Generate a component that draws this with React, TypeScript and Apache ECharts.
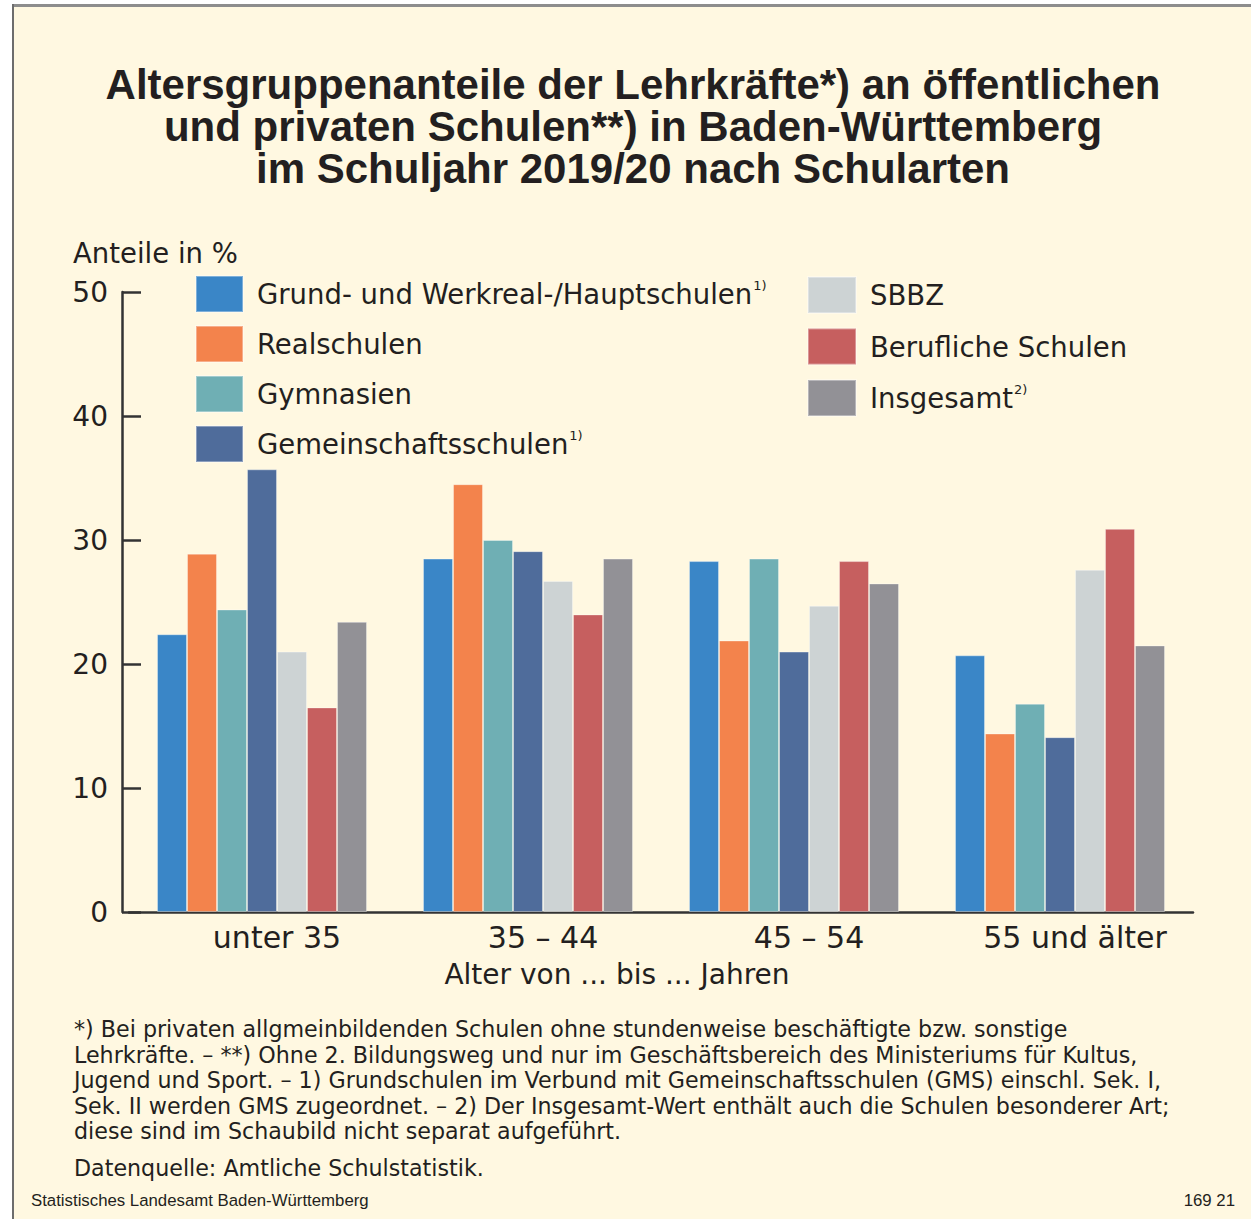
import React, { useEffect, useRef } from "react";
import * as echarts from "echarts";

const categories = ["unter 35", "35 – 44", "45 – 54", "55 und älter"];

const seriesNames = [
  "Grund- und Werkreal-/Hauptschulen",
  "Realschulen",
  "Gymnasien",
  "Gemeinschaftsschulen",
  "SBBZ",
  "Berufliche Schulen",
  "Insgesamt",
];

const superscripts: Record<string, string> = {
  "Grund- und Werkreal-/Hauptschulen": "1)",
  "Gemeinschaftsschulen": "1)",
  "Insgesamt": "2)",
};

const grundWerkreal = [22.4, 28.5, 28.3, 20.7];
const realschulen = [28.9, 34.5, 21.9, 14.4];
const gymnasien = [24.4, 30.0, 28.5, 16.8];
const gemeinschaft = [35.7, 29.1, 21.0, 14.1];
const sbbz = [21.0, 26.7, 24.7, 27.6];
const beruflich = [16.5, 24.0, 28.3, 30.9];
const insgesamt = [23.4, 28.5, 26.5, 21.5];

const seriesValues = [grundWerkreal, realschulen, gymnasien, gemeinschaft, sbbz, beruflich, insgesamt];

const colors = ["#3A86C7", "#F3834C", "#6FAFB4", "#4F6C9B", "#CDD3D4", "#C65F5F", "#929196"];

const yTicks = [0, 10, 20, 30, 40, 50];

const titleLines = [
  "Altersgruppenanteile der Lehrkräfte*) an öffentlichen",
  "und privaten Schulen**) in Baden-Württemberg",
  "im Schuljahr 2019/20 nach Schularten",
];

const footnoteLines = [
  "*) Bei privaten allgmeinbildenden Schulen ohne stundenweise beschäftigte bzw. sonstige",
  "Lehrkräfte. – **) Ohne 2. Bildungsweg und nur im Geschäftsbereich des Ministeriums für Kultus,",
  "Jugend und Sport. – 1) Grundschulen im Verbund mit Gemeinschaftsschulen (GMS) einschl. Sek. I,",
  "Sek. II werden GMS zugeordnet. – 2) Der Insgesamt-Wert enthält auch die Schulen besonderer Art;",
  "diese sind im Schaubild nicht separat aufgeführt.",
];

const sourceText = "Datenquelle: Amtliche Schulstatistik.";
const publisher = "Statistisches Landesamt Baden-Württemberg";
const chartNumber = "169 21";
const yAxisTitle = "Anteile in %";
const xAxisTitle = "Alter von ... bis ... Jahren";

const LABEL_FONT = "'DejaVu Sans', 'Noto Sans', sans-serif";
const SMALL_FONT = "'Liberation Sans', Arial, sans-serif";
const TEXT_COLOR = "#231f20";

export default function App() {
  const ref = useRef<HTMLDivElement>(null);

  useEffect(() => {
    if (!ref.current) return;
    const chart = echarts.init(ref.current, null, { renderer: "svg" });

    const legendText = {
      fontSize: 27.5,
      fontFamily: LABEL_FONT,
      color: TEXT_COLOR,
      lineHeight: 30,
      padding: [0, 0, 0, 9],
      rich: {
        sup: {
          fontSize: 13,
          fontFamily: LABEL_FONT,
          color: TEXT_COLOR,
          verticalAlign: "top",
          lineHeight: 14,
          padding: [0, 0, 14, 1],
        },
      },
    };
    const legendFormatter = (n: string) => (superscripts[n] ? `${n}{sup|${superscripts[n]}}` : n);

    const graphics: any[] = [
      { type: "rect", shape: { x: 14, y: 7, width: 1237, height: 1212 }, style: { fill: "#FFF8E1" }, silent: true, z: -10 },
      { type: "rect", shape: { x: 12, y: 4, width: 1239, height: 3 }, style: { fill: "#8d8d8d" }, silent: true, z: -9 },
      { type: "rect", shape: { x: 12, y: 4, width: 2, height: 1215 }, style: { fill: "#6d6d6d" }, silent: true, z: -9 },
    ];
    titleLines.forEach((t, i) => {
      graphics.push({
        type: "text",
        x: 633,
        y: 84 + i * 42,
        style: {
          text: t,
          fill: TEXT_COLOR,
          fontSize: 42,
          fontWeight: "bold",
          fontFamily: SMALL_FONT,
          textAlign: "center",
          textVerticalAlign: "middle",
        },
      });
    });
    graphics.push({
      type: "text",
      x: 73,
      y: 253,
      style: { text: yAxisTitle, fill: TEXT_COLOR, fontSize: 27.5, fontFamily: LABEL_FONT, textAlign: "left", textVerticalAlign: "middle" },
    });
    graphics.push({
      type: "text",
      x: 617,
      y: 974,
      style: { text: xAxisTitle, fill: TEXT_COLOR, fontSize: 28, fontFamily: LABEL_FONT, textAlign: "center", textVerticalAlign: "middle" },
    });
    footnoteLines.forEach((t, i) => {
      graphics.push({
        type: "text",
        x: 74,
        y: 1029 + i * 25.5,
        style: { text: t, fill: TEXT_COLOR, fontSize: 22.2, fontFamily: LABEL_FONT, textAlign: "left", textVerticalAlign: "middle" },
      });
    });
    graphics.push({
      type: "text",
      x: 74,
      y: 1168,
      style: { text: sourceText, fill: TEXT_COLOR, fontSize: 22.2, fontFamily: LABEL_FONT, textAlign: "left", textVerticalAlign: "middle" },
    });
    graphics.push({
      type: "text",
      x: 31,
      y: 1200,
      style: { text: publisher, fill: TEXT_COLOR, fontSize: 16.8, fontFamily: SMALL_FONT, textAlign: "left", textVerticalAlign: "middle" },
    });
    graphics.push({
      type: "text",
      x: 1235,
      y: 1200,
      style: { text: chartNumber, fill: TEXT_COLOR, fontSize: 16.8, fontFamily: SMALL_FONT, textAlign: "right", textVerticalAlign: "middle" },
    });

    chart.setOption({
      animation: false,
      backgroundColor: "#ffffff",
      color: colors,
      graphic: graphics,
      legend: [
        {
          data: seriesNames.slice(0, 4),
          orient: "vertical",
          left: 195,
          top: 275,
          padding: 0,
          icon: "rect",
          itemWidth: 47,
          itemHeight: 36,
          itemGap: 12,
          selectedMode: false,
          textStyle: legendText,
          formatter: legendFormatter,
        },
        {
          data: seriesNames.slice(4),
          orient: "vertical",
          left: 807,
          top: 276,
          padding: 0,
          icon: "rect",
          itemWidth: 48,
          itemHeight: 36,
          itemGap: 13.5,
          selectedMode: false,
          textStyle: legendText,
          formatter: legendFormatter,
        },
      ],
      grid: { left: 129, right: 58, top: 292, bottom: 307, containLabel: false },
      xAxis: {
        type: "category",
        data: categories,
        axisLine: { show: true, lineStyle: { color: "#333", width: 2.5 } },
        axisTick: { show: false },
        axisLabel: {
          fontSize: 30,
          fontFamily: LABEL_FONT,
          color: TEXT_COLOR,
          margin: 10,
          padding: [0, 0, 0, 30],
        },
      },
      yAxis: {
        type: "value",
        min: 0,
        max: 50,
        interval: 10,
        offset: 7,
        splitLine: { show: false },
        axisLine: { show: true, lineStyle: { color: "#333", width: 2.5 } },
        axisTick: { show: true, inside: true, length: 19, lineStyle: { color: "#333", width: 2.5 } },
        axisLabel: {
          fontSize: 28,
          fontFamily: LABEL_FONT,
          color: TEXT_COLOR,
          margin: 14,
          customValues: yTicks,
        },
      },
      series: seriesNames.map((name, i) => ({
        name,
        type: "bar",
        data: seriesValues[i],
        barWidth: 30,
        barGap: "0%",
        itemStyle: { color: colors[i], borderColor: "rgba(255,255,255,0.35)", borderWidth: 1 },
      })),
    });

    return () => chart.dispose();
  }, []);

  return (
    <div
      ref={ref}
      style={{ position: "absolute", left: 0, top: 0, width: 1251, height: 1219 }}
    />
  );
}
